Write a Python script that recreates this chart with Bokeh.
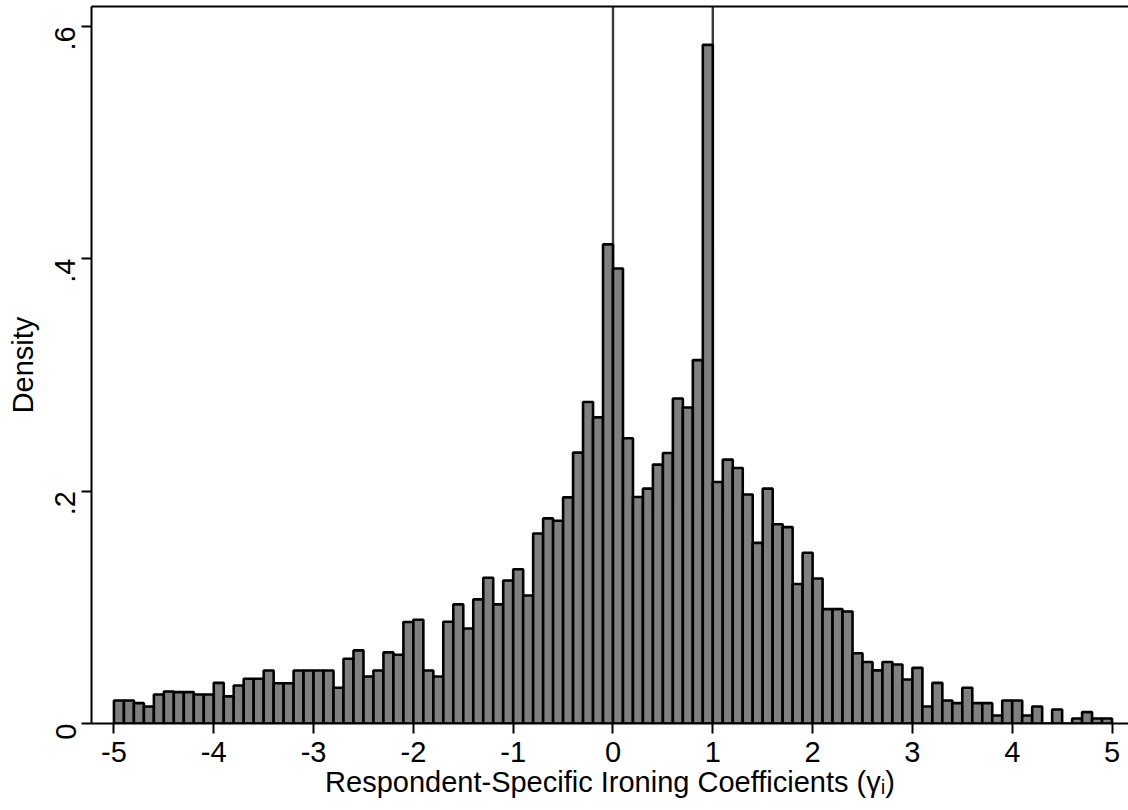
import math
import numpy as np
from bokeh.plotting import figure
from bokeh.models import LinearAxis, FixedTicker, Span, ColumnDataSource, Range1d
from bokeh.embed import file_html
from bokeh.resources import INLINE

# Histogram of respondent-specific ironing coefficients: 100 bins of width 0.1 on [-5, 5]
bin_edges = np.round(np.linspace(-5.0, 5.0, 101), 2)
density = [
    0.0198, 0.0198, 0.0175, 0.0146, 0.0250, 0.0276, 0.0270, 0.0270, 0.0250, 0.0250,
    0.0350, 0.0233, 0.0327, 0.0385, 0.0385, 0.0456, 0.0347, 0.0347, 0.0456, 0.0456,
    0.0456, 0.0456, 0.0307, 0.0557, 0.0629, 0.0405, 0.0456, 0.0612, 0.0591, 0.0873,
    0.0893, 0.0456, 0.0405, 0.0875, 0.1025, 0.0818, 0.1068, 0.1254, 0.1025, 0.1231,
    0.1327, 0.1102, 0.1635, 0.1765, 0.1745, 0.1946, 0.2331, 0.2767, 0.2634, 0.4123,
    0.3916, 0.2455, 0.1949, 0.2021, 0.2228, 0.2328, 0.2797, 0.2719, 0.3127, 0.5840,
    0.2078, 0.2271, 0.2199, 0.1970, 0.1554, 0.2021, 0.1714, 0.1690, 0.1200, 0.1469,
    0.1248, 0.0984, 0.0984, 0.0964, 0.0604, 0.0529, 0.0457, 0.0529, 0.0508, 0.0379,
    0.0479, 0.0146, 0.0350, 0.0198, 0.0175, 0.0307, 0.0175, 0.0175, 0.0069, 0.0198,
    0.0198, 0.0069, 0.0146, 0.0000, 0.0121, 0.0000, 0.0043, 0.0098, 0.0043, 0.0043,
]
x_ticks = [-5, -4, -3, -2, -1, 0, 1, 2, 3, 4, 5]
y_ticks = [0, 0.2, 0.4, 0.6]
y_tick_labels = ["0", ".2", ".4", ".6"]
reference_lines = [0, 1]

FONT = "Liberation Sans"

source = ColumnDataSource(dict(
    left=bin_edges[:-1],
    right=bin_edges[1:],
    top=density,
))

p = figure(
    width=1128, height=810,
    x_range=Range1d(-5.225, 5.165),
    y_range=Range1d(0, 0.617),
    output_backend="svg",
    toolbar_location=None,
    min_border_left=91, min_border_right=0,
    min_border_top=6, min_border_bottom=87,
    background_fill_color="white",
    border_fill_color="white",
)
p.outline_line_color = None
p.grid.visible = False

# vertical reference lines at gamma = 0 and gamma = 1
for loc in reference_lines:
    p.add_layout(Span(location=loc, dimension="height", line_color="#3a3a3a",
                      line_width=2.4, level="underlay"))

p.quad(left="left", right="right", bottom=0, top="top", source=source,
       fill_color="#808080", line_color="black", line_width=2.6)

# x axis
xa = p.xaxis[0]
xa.ticker = FixedTicker(ticks=x_ticks)
xa.major_label_overrides = {t: str(t) for t in x_ticks}
xa.axis_label = "Respondent-Specific Ironing Coefficients (γᵢ)"

# y axis
ya = p.yaxis[0]
ya.ticker = FixedTicker(ticks=y_ticks)
ya.major_label_overrides = dict(zip(y_ticks, y_tick_labels))
ya.major_label_orientation = math.pi / 2
ya.axis_label = "Density"

for ax in (xa, ya):
    ax.axis_line_color = "black"
    ax.axis_line_width = 2
    ax.major_tick_line_color = "black"
    ax.major_tick_line_width = 2
    ax.major_tick_out = 10
    ax.major_tick_in = 0
    ax.minor_tick_line_color = None
    ax.major_label_text_font = FONT
    ax.major_label_text_font_size = "29px"
    ax.major_label_text_color = "black"
    ax.axis_label_text_font = FONT
    ax.axis_label_text_font_size = "29px"
    ax.axis_label_text_font_style = "normal"
    ax.axis_label_text_color = "black"

xa.major_label_standoff = 8
xa.axis_label_standoff = 1
ya.major_label_standoff = 16
ya.axis_label_standoff = 4

# plain frame line along the top of the plot area
top = LinearAxis(ticker=FixedTicker(ticks=[]), axis_line_color="black", axis_line_width=2,
                 major_tick_line_color=None, minor_tick_line_color=None,
                 major_label_text_font_size="0px", major_label_standoff=0)
p.add_layout(top, "above")

open("out.html", "w").write(file_html(p, INLINE))
